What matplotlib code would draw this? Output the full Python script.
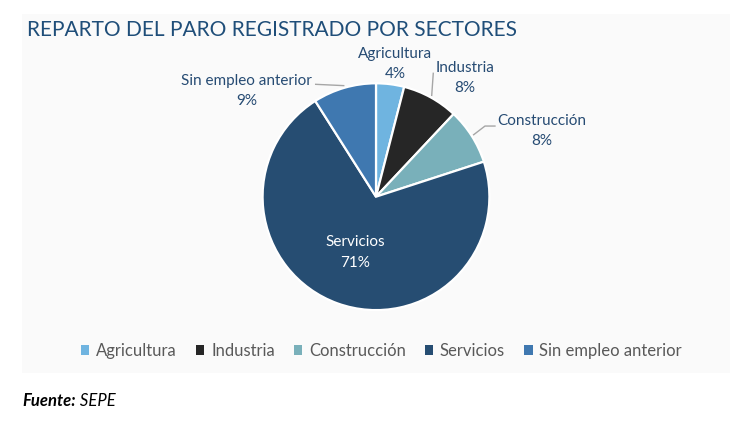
import matplotlib
matplotlib.use('Agg')
import matplotlib.pyplot as plt
from matplotlib.patches import Rectangle, Patch
import numpy as np

# data
sectores = ['Agricultura', 'Industria', 'Construcción', 'Servicios', 'Sin empleo anterior']
porcentajes = [4, 8, 8, 71, 9]
colores = ['#6FB4E0', '#262626', '#79B0BA', '#264D72', '#3F78B0']

plt.rcParams['font.family'] = ['Lato', 'DejaVu Sans']

W, H = 730, 430
fig = plt.figure(figsize=(W / 100, H / 100), dpi=100)
fig.patch.set_facecolor('white')

# light grey chart panel
fig.patches.append(Rectangle((22 / W, (H - 373) / H), 1 - 22 / W, (373 - 14) / H,
                             transform=fig.transFigure, facecolor='#FAFAFA',
                             edgecolor='none', zorder=-5))

# pie axes: centre (376, 196.7) px, radius 113.4 px
cx, cy, r = 376, 196.7, 113.4
ax = fig.add_axes([(cx - r) / W, (H - cy - r) / H, 2 * r / W, 2 * r / H])
ax.set_zorder(2)
wedges, _ = ax.pie(porcentajes, colors=colores, startangle=90, counterclock=False,
                   wedgeprops=dict(edgecolor='white', linewidth=1.6))
ax.set_xlim(-1, 1)
ax.set_ylim(-1, 1)
ax.set_aspect('auto')
ax.axis('off')

label_color = '#264B73'
# label layout (data units of the pie axes)
label_pos = [(0.168, 1.170), (0.787, 1.044), (1.464, 0.578), (-0.185, -0.492), (-1.140, 0.929)]
# text-side ends of leader lines (None = no leader)
leader_pts = [None, [(0.505, 1.088)], [(1.049, 0.623), (0.961, 0.623)], None, [(-0.532, 0.991)]]

for w, name, pct, pos, lead in zip(wedges, sectores, porcentajes, label_pos, leader_pts):
    color = 'white' if name == 'Servicios' else label_color
    ax.text(pos[0], pos[1], f'{name}\n{pct}%', ha='center', va='center',
            fontsize=11, color=color, linespacing=1.55, clip_on=False)
    if lead:
        ang = np.deg2rad((w.theta1 + w.theta2) / 2)
        pts = lead + [(1.02 * np.cos(ang), 1.02 * np.sin(ang))]
        xs, ys = zip(*pts)
        ax.plot(xs, ys, color='#A6A6A6', lw=1.0, clip_on=False)

fig.text(27 / W, (H - 30) / H, 'REPARTO DEL PARO REGISTRADO POR SECTORES',
         fontsize=15, color='#1F4E79', va='center', ha='left')

handles = [Patch(facecolor=c, edgecolor='none') for c in colores]
fig.legend(handles, sectores, loc='center', bbox_to_anchor=(381.5 / W, (H - 351) / H),
           ncol=5, frameon=False, fontsize=12, labelcolor='#595959',
           handlelength=0.5, handleheight=0.5, handletextpad=0.4, columnspacing=1.15)

t1 = fig.text(22 / W, (H - 401) / H, 'Fuente:', fontsize=12, fontweight='bold',
              fontstyle='italic', color='black', va='center')
ax.annotate(' SEPE', xy=(1, 0.5), xycoords=t1, va='center', ha='left',
            fontsize=12, fontstyle='italic', color='black')

fig.savefig('out.png', dpi=100)
